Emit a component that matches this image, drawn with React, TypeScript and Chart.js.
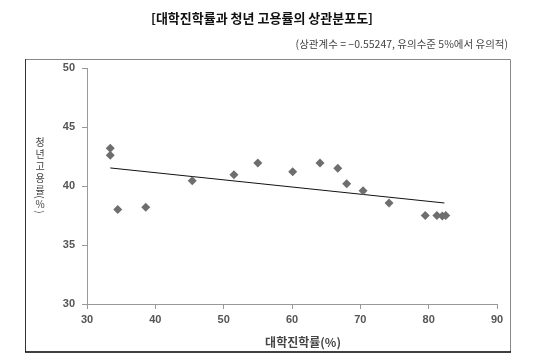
import React, { useEffect, useRef } from "react";
import { Chart, registerables } from "chart.js";

Chart.register(...registerables);

const titleText = "[대학진학률과 청년 고용률의 상관분포도]";
const subtitleText = "(상관계수 = −0.55247, 유의수준 5%에서 유의적)";
const xAxisTitle = "대학진학률(%)";
const yAxisTitleChars = ["청", "년", "고", "용", "률", "(", "%", ")"];

const collegeRate = [33.4, 33.4, 34.5, 38.6, 45.4, 51.5, 55.0, 60.1, 64.1, 66.7, 68.0, 70.4, 74.2, 79.5, 81.2, 82.0, 82.5];
const youthEmployment = [43.2, 42.6, 38.0, 38.2, 40.45, 40.95, 41.95, 41.2, 41.95, 41.5, 40.2, 39.6, 38.55, 37.5, 37.5, 37.45, 37.5];

const trendX = [33.4, 82.3];
const trendY = [41.53, 38.56];

const xMin = 30, xMax = 90, xStep = 10;
const yMin = 30, yMax = 50, yStep = 5;

const KR = '"Noto Sans CJK KR", "Noto Sans", sans-serif';
const NUM = '"Liberation Sans", Arial, sans-serif';

const yTitleTops = [142, 154, 166, 178, 190, 197, 204, 212];

const decorPlugin = {
  id: "decor",
  afterDraw(chart: any) {
    const ctx = chart.ctx as CanvasRenderingContext2D;
    ctx.save();
    ctx.setTransform(1, 0, 0, 1, 0, 0);
    ctx.fillStyle = "#111";
    ctx.font = `bold 13px ${KR}`;
    ctx.textAlign = "center";
    ctx.textBaseline = "middle";
    ctx.fillText(titleText, 262, 18);
    ctx.fillStyle = "#444";
    ctx.font = `10.5px ${KR}`;
    ctx.textAlign = "right";
    ctx.fillText(subtitleText, 508, 44);
    ctx.strokeStyle = "#888";
    ctx.lineWidth = 1;
    ctx.beginPath();
    ctx.moveTo(25, 59.5);
    ctx.lineTo(510.5, 59.5);
    ctx.lineTo(510.5, 352);
    ctx.stroke();
    ctx.strokeStyle = "#333";
    ctx.beginPath();
    ctx.moveTo(25.5, 59);
    ctx.lineTo(25.5, 352);
    ctx.stroke();
    ctx.strokeStyle = "#000";
    ctx.lineWidth = 1.5;
    ctx.beginPath();
    ctx.moveTo(25, 352);
    ctx.lineTo(511, 352);
    ctx.stroke();
    ctx.fillStyle = "#444";
    ctx.font = `bold 12px ${KR}`;
    ctx.textAlign = "center";
    ctx.fillText(xAxisTitle, 303, 342);
    ctx.restore();
  },
};

export default function App() {
  const ref = useRef<HTMLCanvasElement | null>(null);
  useEffect(() => {
    document.body.style.margin = "0";
    if (!ref.current) return;
    const chart = new Chart(ref.current, {
      type: "scatter",
      data: {
        datasets: [
          {
            type: "scatter",
            data: collegeRate.map((x, i) => ({ x, y: youthEmployment[i] })),
            pointStyle: "rectRot",
            pointRadius: 4.5,
            pointBackgroundColor: "#6e6e6e",
            pointBorderWidth: 0,
            pointBorderColor: "#6e6e6e",
          } as any,
          {
            type: "line",
            data: trendX.map((x, i) => ({ x, y: trendY[i] })),
            borderColor: "#111",
            borderWidth: 1,
            pointRadius: 0,
            fill: false,
          } as any,
        ],
      },
      options: {
        animation: false,
        responsive: false,
        devicePixelRatio: 1,
        layout: { padding: { top: 68, right: 43, left: 0, bottom: 0 } },
        plugins: { legend: { display: false }, tooltip: { enabled: false } },
        scales: {
          x: {
            type: "linear",
            min: xMin,
            max: xMax,
            ticks: { stepSize: xStep, color: "#555", font: { family: NUM, size: 11, weight: "bold" }, padding: 4 },
            grid: { drawOnChartArea: false, drawTicks: true, tickLength: 5, color: "#999" },
            border: { color: "#999" },
            afterFit: (s: any) => { s.height = 56; },
          },
          y: {
            type: "linear",
            min: yMin,
            max: yMax,
            ticks: { stepSize: yStep, color: "#555", font: { family: NUM, size: 11, weight: "bold" }, padding: 7 },
            grid: { drawOnChartArea: false, drawTicks: true, tickLength: 5, color: "#999" },
            border: { color: "#999" },
            afterFit: (s: any) => { s.width = 87; },
          },
        },
      } as any,
      plugins: [decorPlugin],
    });
    return () => chart.destroy();
  }, []);
  return (
    <div style={{ position: "absolute", left: 0, top: 0, width: 540, height: 360, background: "#fff" }}>
      <canvas ref={ref} width={540} height={360} />
      {yAxisTitleChars.map((ch, i) => (
        <div
          key={i}
          style={{
            position: "absolute",
            left: 34,
            top: yTitleTops[i] - 6,
            width: 12,
            height: 12,
            lineHeight: "12px",
            textAlign: "center",
            fontFamily: KR,
            fontSize: 10,
            color: "#444",
            transform: ch === "(" || ch === ")" ? "rotate(90deg)" : "none",
          }}
        >
          {ch}
        </div>
      ))}
    </div>
  );
}
